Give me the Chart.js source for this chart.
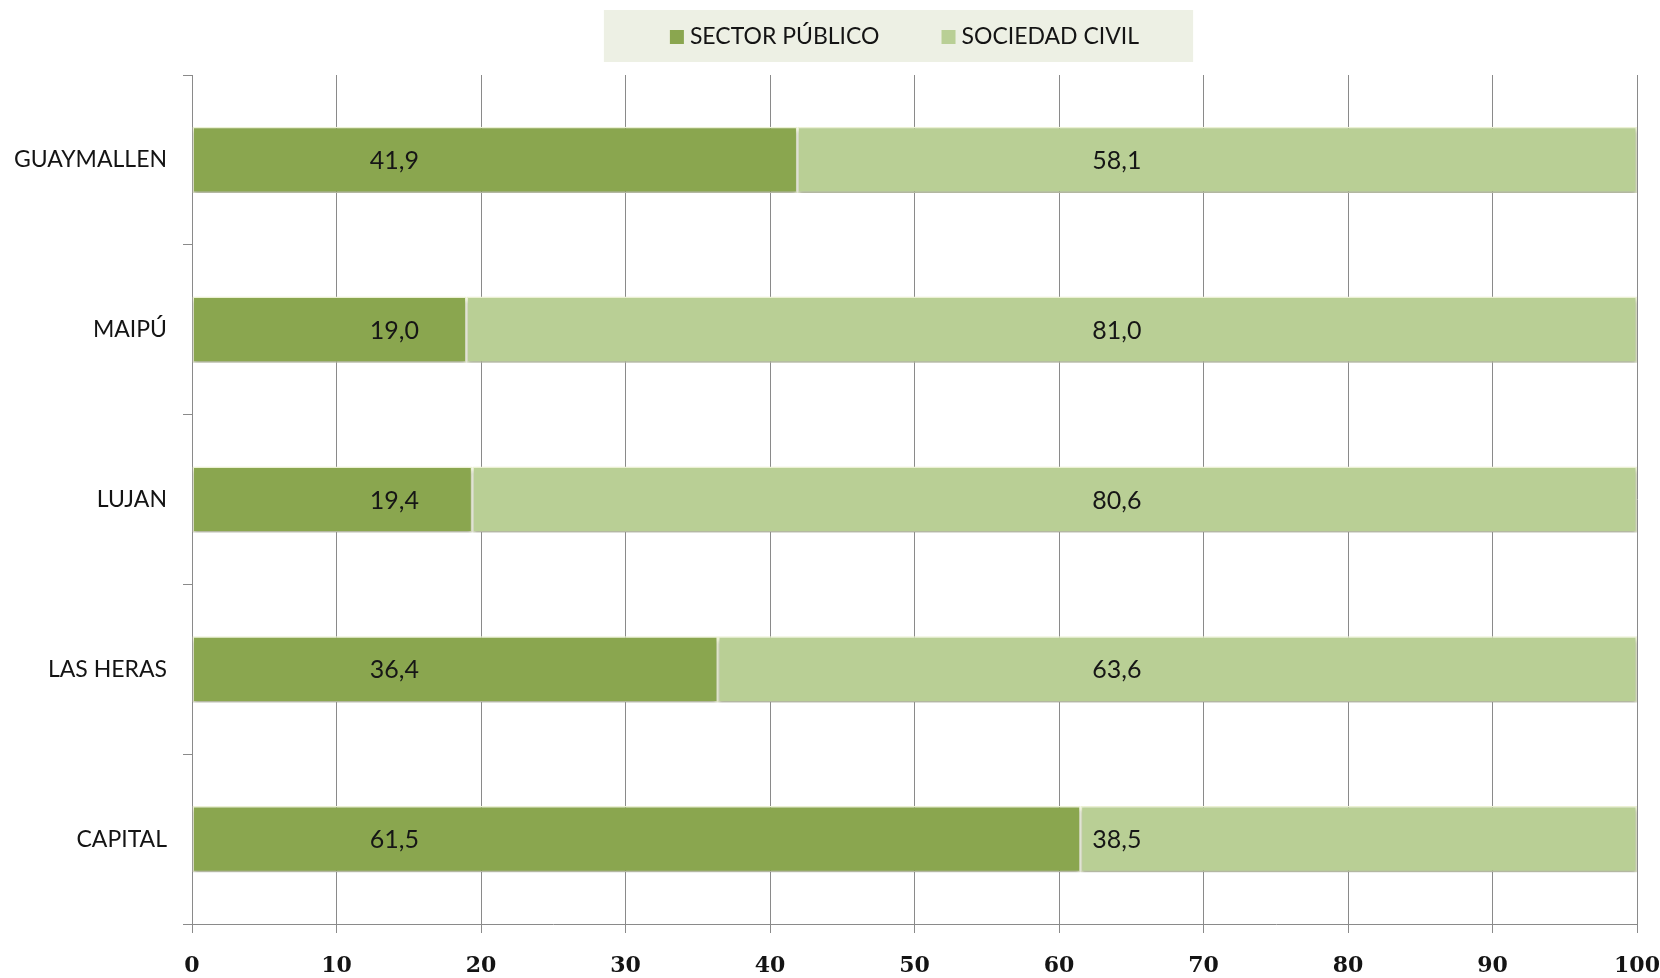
<!DOCTYPE html>
<html lang="es">
<head>
<meta charset="utf-8">
<title>Sector Público vs Sociedad Civil</title>
<script src="https://cdn.jsdelivr.net/npm/chart.js@4.4.1/dist/chart.umd.min.js"></script>
<style>
    html, body { margin: 0; padding: 0; background: #ffffff; }
    #wrap { width: 1660px; height: 978px; }
</style>
</head>
<body>
<div id="wrap"><canvas id="chart-departamentos" width="1660" height="978"></canvas></div>
<script>
// ==========================================
// DATOS
// ==========================================
const departamentos = ['GUAYMALLEN', 'MAIPÚ', 'LUJAN', 'LAS HERAS', 'CAPITAL'];
const sectorPublico = [41.9, 19.0, 19.4, 36.4, 61.5];
const sociedadCivil = [58.1, 81.0, 80.6, 63.6, 38.5];
const seriesNombres = ['SECTOR PÚBLICO', 'SOCIEDAD CIVIL'];
const ejeX = { min: 0, max: 100, paso: 10 };

const COLOR_PUBLICO = '#8aa64f';
const COLOR_CIVIL = '#b9cf95';
const COLOR_GRILLA = '#8a8a8a';
const FUENTE = 'Lato, "Noto Sans", sans-serif';

// ==========================================
// PLUGINS
// ==========================================

// Leyenda propia con fondo, centrada sobre el area del grafico
const leyendaConFondo = {
    id: 'leyendaConFondo',
    afterDraw(chart) {
        const ctx = chart.ctx;
        const area = chart.chartArea;
        const caja = 14, sep = 6, entreItems = 62, margen = 60;
        ctx.save();
        ctx.font = '23px ' + FUENTE;
        const items = chart.data.datasets.map(ds => ({
            texto: ds.label,
            color: ds.backgroundColor,
            ancho: caja + sep + ctx.measureText(ds.label).width
        }));
        const total = items.reduce((s, it) => s + it.ancho, 0) + entreItems * (items.length - 1);
        const centro = (area.left + area.right) / 2 - 10;
        let x = centro - total / 2;

        ctx.fillStyle = '#edf0e4';
        ctx.fillRect(x - margen - 6, 10, total + margen * 2, 52);

        const yc = 37;
        ctx.textBaseline = 'middle';
        ctx.textAlign = 'left';
        items.forEach(it => {
            ctx.fillStyle = it.color;
            ctx.fillRect(x, yc - caja / 2, caja, caja);
            ctx.fillStyle = '#141414';
            ctx.fillText(it.texto, x + caja + sep, yc);
            x += it.ancho + entreItems;
        });
        ctx.restore();
    }
};

// Sombra leve bajo las barras
const sombraBarras = {
    id: 'sombraBarras',
    beforeDatasetsDraw(chart) {
        const ctx = chart.ctx;
        ctx.save();
        ctx.shadowColor = 'rgba(0, 0, 0, 0.28)';
        ctx.shadowBlur = 4;
        ctx.shadowOffsetY = 3;
    },
    afterDatasetsDraw(chart) {
        chart.ctx.restore();
    }
};

// Etiquetas de valor (coma decimal), ancladas en un valor fijo de cada serie
const etiquetasValor = {
    id: 'etiquetasValor',
    afterDatasetsDraw(chart, args, opts) {
        const ctx = chart.ctx;
        const xs = chart.scales.x;
        ctx.save();
        ctx.font = '25px ' + FUENTE;
        ctx.fillStyle = '#161616';
        ctx.textAlign = 'center';
        ctx.textBaseline = 'middle';
        chart.data.datasets.forEach((ds, i) => {
            const meta = chart.getDatasetMeta(i);
            meta.data.forEach((bar, j) => {
                const txt = ds.data[j].toFixed(1).replace('.', ',');
                const ancla = xs.getPixelForValue(opts.anclas[i]);
                ctx.fillText(txt, ancla, bar.y + 1);
            });
        });
        ctx.restore();
    }
};

// ==========================================
// GRAFICO
// ==========================================
const ctxDep = document.getElementById('chart-departamentos').getContext('2d');

const chartDep = new Chart(ctxDep, {
    type: 'bar',
    data: {
        labels: departamentos,
        datasets: [{
            label: seriesNombres[0],
            data: sectorPublico,
            backgroundColor: COLOR_PUBLICO,
            borderColor: '#eef3d6',
            borderWidth: 1.5,
            borderSkipped: false
        }, {
            label: seriesNombres[1],
            data: sociedadCivil,
            backgroundColor: COLOR_CIVIL,
            borderColor: '#eef3d6',
            borderWidth: 1.5,
            borderSkipped: false
        }]
    },
    options: {
        indexAxis: 'y',
        responsive: false,
        devicePixelRatio: 1,
        animation: false,
        layout: { padding: { top: 75, right: 23, left: 0, bottom: 0 } },
        categoryPercentage: 1,
        barPercentage: 0.39,
        scales: {
            x: {
                stacked: true,
                min: ejeX.min,
                max: ejeX.max,
                // el "100" puede sobresalir del margen derecho, como en el original
                afterFit: s => { s.height = 54; s.paddingRight = 0; s.paddingLeft = 0; },
                ticks: {
                    stepSize: ejeX.paso,
                    padding: 20,
                    color: '#141414',
                    font: { family: '"DejaVu Serif", serif', size: 22, weight: 'bold' }
                },
                grid: { color: COLOR_GRILLA, lineWidth: 1, tickLength: 9 },
                border: { color: COLOR_GRILLA, width: 1 }
            },
            y: {
                stacked: true,
                afterFit: s => { s.width = 192; },
                ticks: {
                    padding: 16,
                    color: '#141414',
                    font: { family: FUENTE, size: 23 }
                },
                grid: {
                    offset: true,
                    drawOnChartArea: false,
                    color: COLOR_GRILLA,
                    tickLength: 9
                },
                border: { color: COLOR_GRILLA, width: 1 }
            }
        },
        plugins: {
            legend: { display: false },
            tooltip: { enabled: false },
            etiquetasValor: { anclas: [14, 64] }
        }
    },
    plugins: [sombraBarras, etiquetasValor, leyendaConFondo]
});
</script>
</body>
</html>
